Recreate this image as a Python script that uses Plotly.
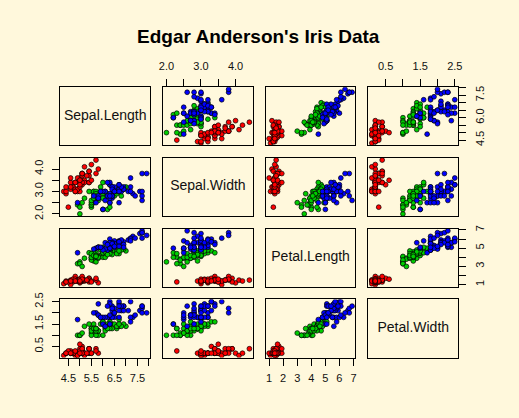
import plotly.graph_objects as go

variables = ["Sepal.Length", "Sepal.Width", "Petal.Length", "Petal.Width"]
species_names = ["setosa", "versicolor", "virginica"]
species_colors = ["#FF0000", "#00CD00", "#0000FF"]

sepal_length = [
    5.1, 4.9, 4.7, 4.6, 5.0, 5.4, 4.6, 5.0, 4.4, 4.9, 5.4, 4.8, 4.8, 4.3, 5.8, 5.7, 5.4, 5.1, 5.7, 5.1,
    5.4, 5.1, 4.6, 5.1, 4.8, 5.0, 5.0, 5.2, 5.2, 4.7, 4.8, 5.4, 5.2, 5.5, 4.9, 5.0, 5.5, 4.9, 4.4, 5.1,
    5.0, 4.5, 4.4, 5.0, 5.1, 4.8, 5.1, 4.6, 5.3, 5.0,
    7.0, 6.4, 6.9, 5.5, 6.5, 5.7, 6.3, 4.9, 6.6, 5.2, 5.0, 5.9, 6.0, 6.1, 5.6, 6.7, 5.6, 5.8, 6.2, 5.6,
    5.9, 6.1, 6.3, 6.1, 6.4, 6.6, 6.8, 6.7, 6.0, 5.7, 5.5, 5.5, 5.8, 6.0, 5.4, 6.0, 6.7, 6.3, 5.6, 5.5,
    5.5, 6.1, 5.8, 5.0, 5.6, 5.7, 5.7, 6.2, 5.1, 5.7,
    6.3, 5.8, 7.1, 6.3, 6.5, 7.6, 4.9, 7.3, 6.7, 7.2, 6.5, 6.4, 6.8, 5.7, 5.8, 6.4, 6.5, 7.7, 7.7, 6.0,
    6.9, 5.6, 7.7, 6.3, 6.7, 7.2, 6.2, 6.1, 6.4, 7.2, 7.4, 7.9, 6.4, 6.3, 6.1, 7.7, 6.3, 6.4, 6.0, 6.9,
    6.7, 6.9, 5.8, 6.8, 6.7, 6.7, 6.3, 6.5, 6.2, 5.9,
]
sepal_width = [
    3.5, 3.0, 3.2, 3.1, 3.6, 3.9, 3.4, 3.4, 2.9, 3.1, 3.7, 3.4, 3.0, 3.0, 4.0, 4.4, 3.9, 3.5, 3.8, 3.8,
    3.4, 3.7, 3.6, 3.3, 3.4, 3.0, 3.4, 3.5, 3.4, 3.2, 3.1, 3.4, 4.1, 4.2, 3.1, 3.2, 3.5, 3.6, 3.0, 3.4,
    3.5, 2.3, 3.2, 3.5, 3.8, 3.0, 3.8, 3.2, 3.7, 3.3,
    3.2, 3.2, 3.1, 2.3, 2.8, 2.8, 3.3, 2.4, 2.9, 2.7, 2.0, 3.0, 2.2, 2.9, 2.9, 3.1, 3.0, 2.7, 2.2, 2.5,
    3.2, 2.8, 2.5, 2.8, 2.9, 3.0, 2.8, 3.0, 2.9, 2.6, 2.4, 2.4, 2.7, 2.7, 3.0, 3.4, 3.1, 2.3, 3.0, 2.5,
    2.6, 3.0, 2.6, 2.3, 2.7, 3.0, 2.9, 2.9, 2.5, 2.8,
    3.3, 2.7, 3.0, 2.9, 3.0, 3.0, 2.5, 2.9, 2.5, 3.6, 3.2, 2.7, 3.0, 2.5, 2.8, 3.2, 3.0, 3.8, 2.6, 2.2,
    3.2, 2.8, 2.8, 2.7, 3.3, 3.2, 2.8, 3.0, 2.8, 3.0, 2.8, 3.8, 2.8, 2.8, 2.6, 3.0, 3.4, 3.1, 3.0, 3.1,
    3.1, 3.1, 2.7, 3.2, 3.3, 3.0, 2.5, 3.0, 3.4, 3.0,
]
petal_length = [
    1.4, 1.4, 1.3, 1.5, 1.4, 1.7, 1.4, 1.5, 1.4, 1.5, 1.5, 1.6, 1.4, 1.1, 1.2, 1.5, 1.3, 1.4, 1.7, 1.5,
    1.7, 1.5, 1.0, 1.7, 1.9, 1.6, 1.6, 1.5, 1.4, 1.6, 1.6, 1.5, 1.5, 1.4, 1.5, 1.2, 1.3, 1.4, 1.3, 1.5,
    1.3, 1.3, 1.3, 1.6, 1.9, 1.4, 1.6, 1.4, 1.5, 1.4,
    4.7, 4.5, 4.9, 4.0, 4.6, 4.5, 4.7, 3.3, 4.6, 3.9, 3.5, 4.2, 4.0, 4.7, 3.6, 4.4, 4.5, 4.1, 4.5, 3.9,
    4.8, 4.0, 4.9, 4.7, 4.3, 4.4, 4.8, 5.0, 4.5, 3.5, 3.8, 3.7, 3.9, 5.1, 4.5, 4.5, 4.7, 4.4, 4.1, 4.0,
    4.4, 4.6, 4.0, 3.3, 4.2, 4.2, 4.2, 4.3, 3.0, 4.1,
    6.0, 5.1, 5.9, 5.6, 5.8, 6.6, 4.5, 6.3, 5.8, 6.1, 5.1, 5.3, 5.5, 5.0, 5.1, 5.3, 5.5, 6.7, 6.9, 5.0,
    5.7, 4.9, 6.7, 4.9, 5.7, 6.0, 4.8, 4.9, 5.6, 5.8, 6.1, 6.4, 5.6, 5.1, 5.6, 6.1, 5.6, 5.5, 4.8, 5.4,
    5.6, 5.1, 5.1, 5.9, 5.7, 5.2, 5.0, 5.2, 5.4, 5.1,
]
petal_width = [
    0.2, 0.2, 0.2, 0.2, 0.2, 0.4, 0.3, 0.2, 0.2, 0.1, 0.2, 0.2, 0.1, 0.1, 0.2, 0.4, 0.4, 0.3, 0.3, 0.3,
    0.2, 0.4, 0.2, 0.5, 0.2, 0.2, 0.4, 0.2, 0.2, 0.2, 0.2, 0.4, 0.1, 0.2, 0.2, 0.2, 0.2, 0.1, 0.2, 0.2,
    0.3, 0.3, 0.2, 0.6, 0.4, 0.3, 0.2, 0.2, 0.2, 0.2,
    1.4, 1.5, 1.5, 1.3, 1.5, 1.3, 1.6, 1.0, 1.3, 1.4, 1.0, 1.5, 1.0, 1.4, 1.3, 1.4, 1.5, 1.0, 1.5, 1.1,
    1.8, 1.3, 1.5, 1.2, 1.3, 1.4, 1.4, 1.7, 1.5, 1.0, 1.1, 1.0, 1.2, 1.6, 1.5, 1.6, 1.5, 1.3, 1.3, 1.3,
    1.2, 1.4, 1.2, 1.0, 1.3, 1.2, 1.3, 1.3, 1.1, 1.3,
    2.5, 1.9, 2.1, 1.8, 2.2, 2.1, 1.7, 1.8, 1.8, 2.5, 2.0, 1.9, 2.1, 2.0, 2.4, 2.3, 1.8, 2.2, 2.3, 1.5,
    2.3, 2.0, 2.0, 1.8, 2.1, 1.8, 1.8, 1.8, 2.1, 1.6, 1.9, 2.0, 2.2, 1.5, 1.4, 2.3, 2.4, 1.8, 1.8, 2.1,
    2.4, 2.3, 1.9, 2.3, 2.5, 2.3, 1.9, 2.0, 2.3, 1.8,
]
species = [0] * 50 + [1] * 50 + [2] * 50

# tick values and which ones carry a label (R drops overlapping labels)
tick_values = [
    [4.5, 5.0, 5.5, 6.0, 6.5, 7.0, 7.5, 8.0],
    [2.0, 2.5, 3.0, 3.5, 4.0],
    [1, 2, 3, 4, 5, 6, 7],
    [0.5, 1.0, 1.5, 2.0, 2.5],
]
x_tick_labels = [
    ["4.5", "", "5.5", "", "6.5", "", "7.5", ""],
    ["2.0", "", "3.0", "", "4.0"],
    ["1", "2", "3", "4", "5", "6", "7"],
    ["0.5", "", "1.5", "", "2.5"],
]
y_tick_labels = [
    ["4.5", "", "", "6.0", "", "", "7.5", ""],
    ["2.0", "", "3.0", "", "4.0"],
    ["1", "", "3", "", "5", "", "7"],
    ["0.5", "", "1.5", "", "2.5"],
]

data = [sepal_length, sepal_width, petal_length, petal_width]

W, H = 519, 418
BG = "#FFF8DC"
FONT = "Liberation Sans, Arial, sans-serif"

col_left = [57.3 + j * 104.3 for j in range(4)]
panel_w = 91.0
row_top = [82.3 + i * 72.7 for i in range(4)]
panel_h = 59.7


def rng(v):
    lo, hi = min(v), max(v)
    d = (hi - lo) * 0.04
    return [lo - d, hi + d]


fig = go.Figure()
layout = dict(
    width=W, height=H,
    margin=dict(l=0, r=0, t=0, b=0),
    paper_bgcolor=BG, plot_bgcolor=BG,
    showlegend=False,
    font=dict(family=FONT, color="black", size=11),
)
annotations = []

for i in range(4):
    for j in range(4):
        k = i * 4 + j + 1
        xa = "x" if k == 1 else f"x{k}"
        ya = "y" if k == 1 else f"y{k}"
        xdom = [col_left[j] / W, (col_left[j] + panel_w) / W]
        ydom = [1 - (row_top[i] + panel_h) / H, 1 - row_top[i] / H]

        show_x = (i == 3 and j % 2 == 0) or (i == 0 and j % 2 == 1)
        x_side = "bottom" if i == 3 else "top"
        show_y = (j == 0 and i % 2 == 1) or (j == 3 and i % 2 == 0)
        y_side = "left" if j == 0 else "right"

        xaxis = dict(
            domain=xdom, anchor=ya, range=rng(data[j]),
            showgrid=False, zeroline=False,
            showline=True, mirror=True, linecolor="black", linewidth=1,
            tickmode="array", tickvals=tick_values[j], ticktext=x_tick_labels[j],
            ticks="outside" if show_x else "", ticklen=7, tickcolor="black", tickwidth=1,
            showticklabels=show_x, side=x_side,
            ticklabelstandoff=5 if x_side == "top" else 3,
            tickfont=dict(family=FONT, size=11, color="#111111"),
            fixedrange=True,
        )
        yaxis = dict(
            domain=ydom, anchor=xa, range=rng(data[i]),
            showgrid=False, zeroline=False,
            showline=True, mirror=True, linecolor="black", linewidth=1,
            tickmode="array", tickvals=tick_values[i], ticktext=y_tick_labels[i],
            ticks="outside" if show_y else "", ticklen=7, tickcolor="black", tickwidth=1,
            showticklabels=show_y, side=y_side, tickangle=-90,
            ticklabelstandoff=5 if y_side == "left" else 5,
            tickfont=dict(family=FONT, size=11, color="#111111"),
            fixedrange=True,
        )
        layout["xaxis" if k == 1 else f"xaxis{k}"] = xaxis
        layout["yaxis" if k == 1 else f"yaxis{k}"] = yaxis

        if i == j:
            r = rng(data[i])
            mid = (r[0] + r[1]) / 2
            fig.add_trace(go.Scatter(
                x=[mid], y=[mid], mode="text", text=[variables[i]],
                textposition="middle center", xaxis=xa, yaxis=ya,
                textfont=dict(family=FONT, size=14, color="#111111"),
                hoverinfo="skip", cliponaxis=False,
            ))
            continue

        for s in range(3):
            idx = [n for n in range(150) if species[n] == s]
            fig.add_trace(go.Scatter(
                x=[data[j][n] for n in idx],
                y=[data[i][n] for n in idx],
                mode="markers", xaxis=xa, yaxis=ya,
                name=species_names[s],
                marker=dict(size=4.8, color=species_colors[s],
                            line=dict(color="black", width=0.7)),
                hoverinfo="skip",
            ))

annotations.append(dict(
    text="<b>Edgar Anderson's Iris Data</b>", xref="paper", yref="paper",
    x=258.7 / W, y=1 - 30.5 / H, xanchor="center", yanchor="middle",
    showarrow=False, font=dict(family=FONT, size=19, color="black"),
))
layout["annotations"] = annotations
fig.update_layout(**layout)
fig.write_html(
    "out.html",
    config={"displayModeBar": False, "staticPlot": True},
    post_script="document.body.style.margin='0';document.body.style.background='#FFF8DC';",
)
